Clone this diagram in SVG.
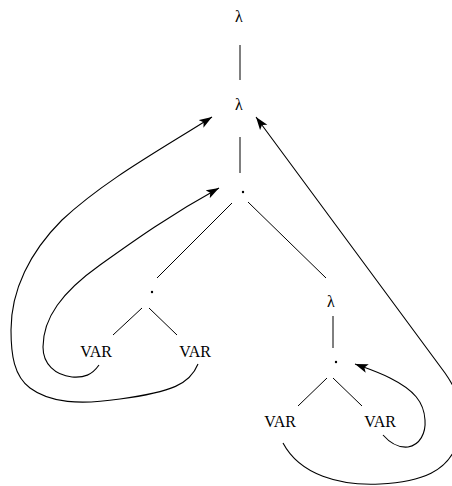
<svg xmlns="http://www.w3.org/2000/svg" width="452" height="486" viewBox="0 0 452 486">
<style>
text{font-family:"Liberation Serif","DejaVu Serif",serif;font-size:16px;fill:#000;text-anchor:middle}
.e{stroke:#000;stroke-width:1;fill:none}
.a{stroke:#000;stroke-width:1.1;fill:none;marker-end:url(#ah)}
</style>
<defs>
<marker id="ah" markerUnits="userSpaceOnUse" markerWidth="14" markerHeight="10" refX="13" refY="4.5" orient="auto" viewBox="0 0 14 9">
<path d="M0,0 L13,4.5 L0,9 L3,4.5 z" fill="#000"/>
</marker>
</defs>
<rect width="452" height="486" fill="#fff"/>
<g id="connectors">
<line class="e" x1="240" y1="45" x2="240" y2="80"/>
<line class="e" x1="240" y1="137" x2="240" y2="173"/>
<line class="e" x1="232" y1="203" x2="157" y2="278"/>
<line class="e" x1="248" y1="202" x2="326" y2="278"/>
<line class="e" x1="142" y1="308" x2="113" y2="335"/>
<line class="e" x1="149" y1="308" x2="177" y2="335"/>
<line class="e" x1="333" y1="316" x2="333" y2="348"/>
<line class="e" x1="327" y1="378" x2="298" y2="406"/>
<line class="e" x1="333" y1="378" x2="362" y2="406"/>
<path class="a" d="M99,365 C92,375 84,378 72,377 C55,375 43,364 43,347 C43,318 62,292 100,265 C135,240 170,215 219,188"/>
<path class="a" d="M198,364 C190,384 172,392 120,399 C80,405 50,403 30,388 C14,376 11,355 11,330 C11,290 30,252 62,220 C105,180 160,150 212,117"/>
<path class="a" d="M383,435 C390,443 398,448 408,447 C420,445 426,433 425,420 C424,402 414,390 390,378 C378,372 366,368 355,364"/>
<path class="a" d="M283,443 C300,475 340,486 380,484 C420,482 450,472 458,440 C466,410 457,390 445,373 L256,117"/>
</g>
<g id="lambda1"><text x="239" y="22">λ</text></g>
<g id="lambda2"><text x="239" y="110">λ</text></g>
<g id="app1"><circle cx="243" cy="192" r="1.2" fill="#000"/></g>
<g id="app2"><circle cx="152" cy="292" r="1.2" fill="#000"/></g>
<g id="var1"><text x="96" y="357">VAR</text></g>
<g id="var2"><text x="195" y="357">VAR</text></g>
<g id="lambda3"><text x="331" y="307">λ</text></g>
<g id="app3"><circle cx="336" cy="362" r="1.2" fill="#000"/></g>
<g id="var3"><text x="280" y="427">VAR</text></g>
<g id="var4"><text x="380" y="427">VAR</text></g>
</svg>
